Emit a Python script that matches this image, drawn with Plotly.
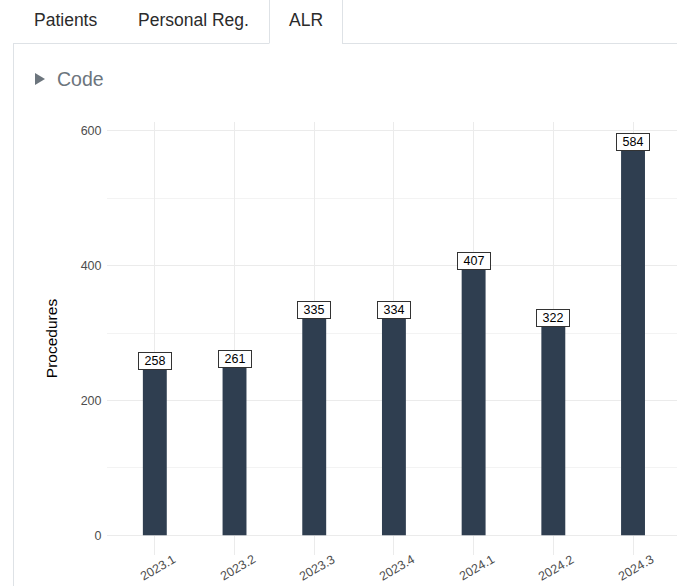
import plotly.graph_objects as go

quarters = ["2023.1", "2023.2", "2023.3", "2023.4", "2024.1", "2024.2", "2024.3"]
procedures = [258, 261, 335, 334, 407, 322, 584]
y_ticks = [0, 200, 400, 600]
tabs = ["Patients", "Personal Reg.", "ALR"]

# layout geometry (pixels)
W, H = 677, 586
L, R, T, B = 107, 0, 122, 31
PW, PH = W - L - R, H - T - B


def px(x):
    return (x - L) / PW


def py(y):
    return (H - B - y) / PH


BAR = "#2f3e50"
GRID = "#ebebeb"
FONT = "Liberation Sans, Arial, sans-serif"

fig = go.Figure()
fig.add_trace(go.Bar(
    x=quarters, y=procedures, width=0.3,
    marker=dict(color=BAR, line=dict(width=0)),
    hoverinfo="x+y",
))

ann = []
for i, (q, v) in enumerate(zip(quarters, procedures)):
    ann.append(dict(
        x=i, y=v, xref="x", yref="y", text=str(v), showarrow=False,
        font=dict(family=FONT, size=12.5, color="#000000"),
        bgcolor="#ffffff", bordercolor="#333333", borderwidth=1, borderpad=1,
        width=30, height=14, xanchor="center", yanchor="middle",
    ))
    ann.append(dict(
        x=i, y=py(568), xref="x", yref="paper", text=q, showarrow=False,
        font=dict(family=FONT, size=12.5, color="#4d4d4d"),
        textangle=-30, xanchor="center", yanchor="middle", xshift=3,
    ))

# tab labels and "Code" header
tab_x = [33, 137, 288]
for t, x0 in zip(tabs, tab_x):
    ann.append(dict(
        x=px(x0), y=py(20), xref="paper", yref="paper", text=t, showarrow=False,
        font=dict(family=FONT, size=17.5, color="#2b2b2b"),
        xanchor="left", yanchor="middle", xshift=-1,
    ))
ann.append(dict(
    x=px(56), y=py(79), xref="paper", yref="paper", text="Code", showarrow=False,
    font=dict(family=FONT, size=19.5, color="#6c757d"),
    xanchor="left", yanchor="middle", xshift=-1,
))

line = dict(color="#dee2e6", width=1)
shapes = [
    dict(type="line", xref="paper", yref="paper", x0=px(13), x1=px(269), y0=py(43.5), y1=py(43.5), line=line),
    dict(type="line", xref="paper", yref="paper", x0=px(342), x1=px(677), y0=py(43.5), y1=py(43.5), line=line),
    dict(type="line", xref="paper", yref="paper", x0=px(269.5), x1=px(269.5), y0=py(0), y1=py(43.5), line=line),
    dict(type="line", xref="paper", yref="paper", x0=px(342.5), x1=px(342.5), y0=py(0), y1=py(43.5), line=line),
    dict(type="line", xref="paper", yref="paper", x0=px(13.5), x1=px(13.5), y0=py(43.5), y1=py(586), line=line),
    dict(type="path", xref="paper", yref="paper",
         path=f"M {px(35)} {py(73)} L {px(45)} {py(79)} L {px(35)} {py(85)} Z",
         fillcolor="#6c757d", line=dict(width=0)),
]

ymax = max(procedures)
fig.update_layout(
    width=W, height=H,
    margin=dict(l=L, r=R, t=T, b=B, pad=0),
    paper_bgcolor="#ffffff", plot_bgcolor="#ffffff",
    showlegend=False, bargap=0.7,
    font=dict(family=FONT),
    annotations=ann, shapes=shapes,
    xaxis=dict(
        type="category", range=[-0.6, -0.6 + PW / 79.7],
        showgrid=True, gridcolor=GRID, gridwidth=1,
        showticklabels=False, ticks="", showline=False, zeroline=False,
        fixedrange=True,
    ),
    yaxis=dict(
        range=[-0.05 * ymax, 1.05 * ymax],
        tickvals=y_ticks, ticktext=[str(v) for v in y_ticks],
        showgrid=True, gridcolor=GRID, gridwidth=1, zeroline=False, showline=False,
        minor=dict(dtick=100, showgrid=True, gridcolor="#f3f3f3", gridwidth=1),
        ticks="outside", ticklen=2, tickcolor="rgba(0,0,0,0)",
        tickfont=dict(family=FONT, size=12.5, color="#4d4d4d"),
        title=dict(text="Procedures", font=dict(family=FONT, size=15.5, color="#000000"), standoff=19),
        fixedrange=True,
    ),
)

fig.write_html(
    "out.html",
    config={"displayModeBar": False},
    post_script="document.body.style.margin='0';document.body.style.overflow='hidden';",
)
